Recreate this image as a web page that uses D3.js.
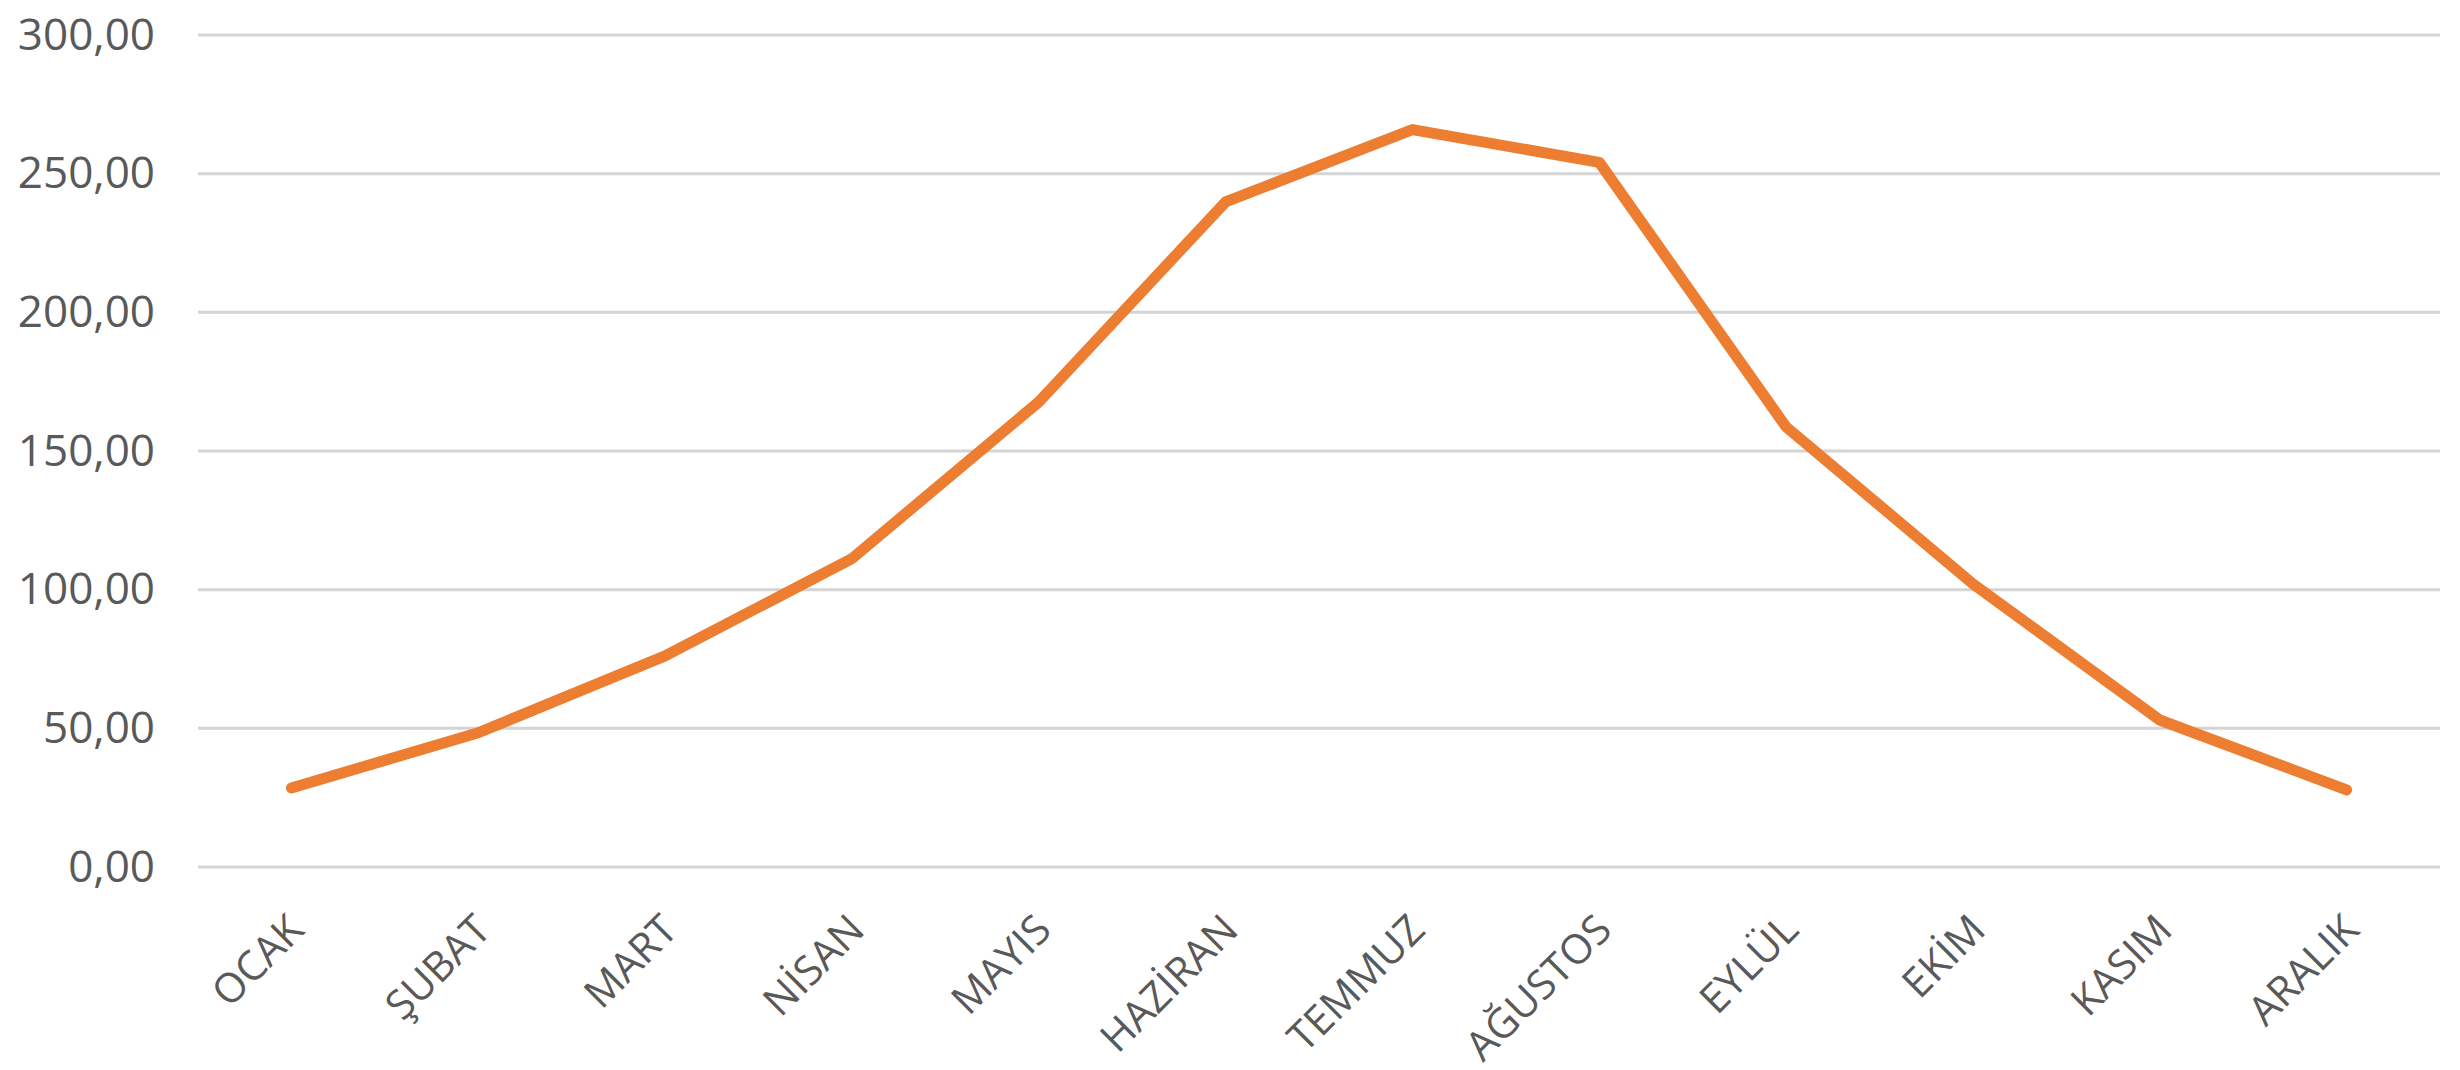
<!DOCTYPE html>
<html>
<head>
<meta charset="utf-8">
<script src="https://cdn.jsdelivr.net/npm/d3@7"></script>
<style>
  html, body { margin: 0; padding: 0; background: #fff; }
  svg { display: block; }
  text { font-family: "Open Sans", sans-serif; fill: #595959; }
</style>
</head>
<body>
<svg id="chart"></svg>
<script>
const width = 2460
const height = 1070

// monthly values
const months = ['OCAK', 'ŞUBAT', 'MART', 'NİSAN', 'MAYIS', 'HAZİRAN', 'TEMMUZ', 'AĞUSTOS', 'EYLÜL', 'EKİM', 'KASIM', 'ARALIK']
const values = [28.5, 48.4, 76.1, 111.2, 167.7, 239.8, 265.9, 254.1, 158.7, 102.1, 53.0, 27.8]
const yTicks = [0, 50, 100, 150, 200, 250, 300]

const margin = { top: 35, right: 20, bottom: 203, left: 198 }

const trFormat = d3.formatLocale({ decimal: ',', thousands: '.', grouping: [3], currency: ['', ''] }).format('.2f')

const svg = d3.select('#chart').attr('width', width).attr('height', height)

const x = d3
  .scalePoint()
  .domain(months)
  .range([margin.left, width - margin.right])
  .padding(0.5)

const y = d3
  .scaleLinear()
  .domain([0, 300])
  .range([height - margin.bottom, margin.top])

// horizontal gridlines
svg
  .append('g')
  .selectAll('line')
  .data(yTicks)
  .enter()
  .append('line')
  .attr('x1', margin.left)
  .attr('x2', width - margin.right)
  .attr('y1', d => y(d))
  .attr('y2', d => y(d))
  .attr('stroke', '#d4d4d4')
  .attr('stroke-width', 3)

// y labels
const yAxis = svg
  .append('g')
  .attr('transform', `translate(${margin.left - 43},0)`)
  .call(d3.axisLeft(y).tickValues(yTicks).tickFormat(trFormat).tickSize(0).tickPadding(0))
yAxis.select('.domain').remove()
yAxis.selectAll('text').attr('font-size', 44).style('font-family', '"Open Sans", sans-serif').attr('fill', '#595959')

// x labels, rotated
const xAxis = svg
  .append('g')
  .attr('transform', `translate(0,${height - margin.bottom})`)
  .call(d3.axisBottom(x).tickSize(0).tickPadding(0))
xAxis.select('.domain').remove()
xAxis
  .selectAll('text')
  .attr('font-size', 41)
  .style('font-family', '"Open Sans", sans-serif')
  .attr('fill', '#595959')
  .attr('text-anchor', 'end')
  .attr('dy', '0.35em')
  .attr('transform', 'translate(4,55) rotate(-45)')

const line = d3
  .line()
  .x((d, i) => x(months[i]))
  .y(d => y(d))

svg
  .append('path')
  .datum(values)
  .attr('d', line)
  .attr('fill', 'none')
  .attr('stroke', '#ed7d31')
  .attr('stroke-width', 11)
  .attr('stroke-linecap', 'round')
  .attr('stroke-linejoin', 'round')
</script>
</body>
</html>
